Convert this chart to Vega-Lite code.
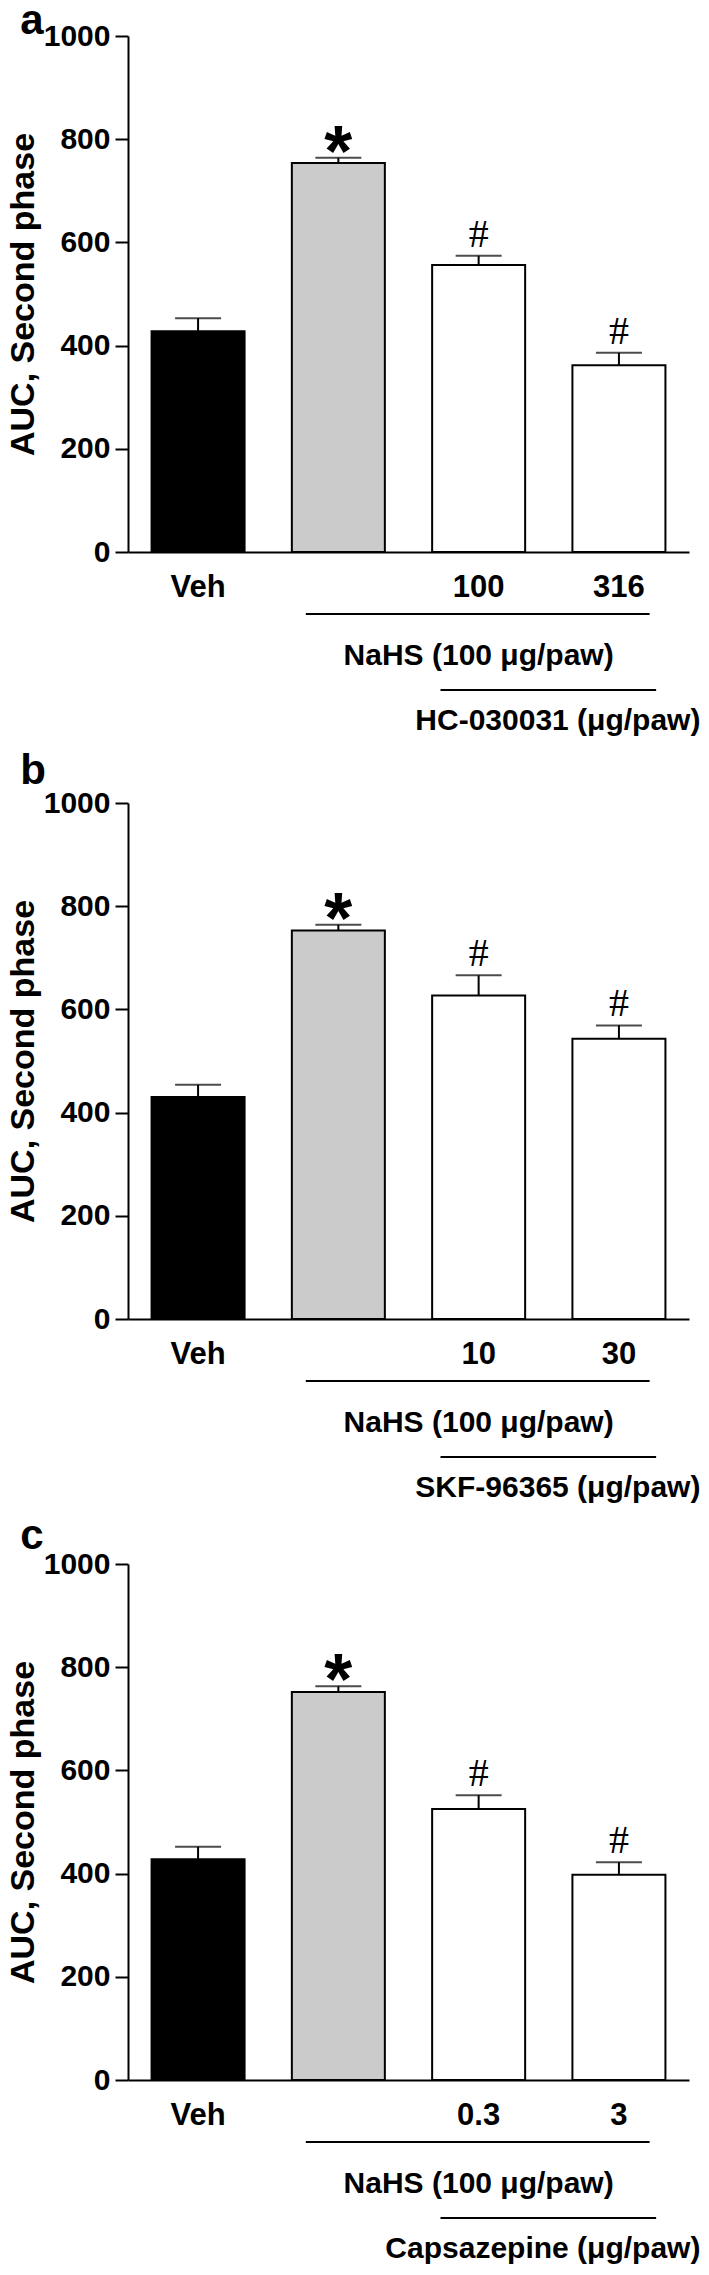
{
  "$schema": "https://vega.github.io/schema/vega-lite/v6.json",
  "padding": {"left": 6, "top": 0, "right": 0, "bottom": 0},
  "background": "white",
  "spacing": 10,
  "config": {
    "view": {"stroke": null},
    "font": "Liberation Sans",
    "axis": {"domainColor": "black", "domainWidth": 2, "tickColor": "black", "tickWidth": 2, "labelColor": "black", "labelFont": "Liberation Sans", "labelFontWeight": "bold", "titleFont": "Liberation Sans", "titleFontWeight": "bold", "titleColor": "black", "grid": false},
    "title": {"font": "Liberation Sans", "fontWeight": "bold", "fontSize": 42, "color": "black", "anchor": "start", "frame": "bounds"}
  },
  "datasets": {
    "a": [
      {"group": "Veh", "mean": 428, "upper": 453, "sig": ""},
      {"group": "NaHS", "mean": 754, "upper": 764, "sig": "*"},
      {"group": "100", "mean": 556, "upper": 574, "sig": "#"},
      {"group": "316", "mean": 362, "upper": 386, "sig": "#"}
    ],
    "b": [
      {"group": "Veh", "mean": 430, "upper": 454, "sig": ""},
      {"group": "NaHS", "mean": 753, "upper": 764, "sig": "*"},
      {"group": "10", "mean": 627, "upper": 666, "sig": "#"},
      {"group": "30", "mean": 543, "upper": 569, "sig": "#"}
    ],
    "c": [
      {"group": "Veh", "mean": 428, "upper": 452, "sig": ""},
      {"group": "NaHS", "mean": 752, "upper": 763, "sig": "*"},
      {"group": "0.3", "mean": 525, "upper": 552, "sig": "#"},
      {"group": "3", "mean": 398, "upper": 422, "sig": "#"}
    ],
    "ga": [
      {"row": "1", "label": "NaHS (100 μg/paw)", "from": "NaHS", "to": "316", "center": "100"},
      {"row": "2", "label": "HC-030031 (μg/paw)", "from": "100", "to": "316", "center": "316"}
    ],
    "gb": [
      {"row": "1", "label": "NaHS (100 μg/paw)", "from": "NaHS", "to": "30", "center": "10"},
      {"row": "2", "label": "SKF-96365 (μg/paw)", "from": "10", "to": "30", "center": "30"}
    ],
    "gc": [
      {"row": "1", "label": "NaHS (100 μg/paw)", "from": "NaHS", "to": "3", "center": "0.3"},
      {"row": "2", "label": "Capsazepine (μg/paw)", "from": "0.3", "to": "3", "center": "3"}
    ]
  },
  "vconcat": [
    {
      "width": 561, "height": 516,
      "title": {"text": "a", "dx": 14, "offset": -22},
      "data": {"name": "a"},
      "encoding": {
        "x": {"field": "group", "type": "nominal", "sort": null,
          "scale": {"domain": ["Veh", "NaHS", "100", "316"], "paddingInner": 0.337, "paddingOuter": 0.168},
          "axis": {"title": null, "ticks": false, "tickSize": 0, "labelFontSize": 31, "labelPadding": 44, "labelBaseline": "alphabetic", "labelAngle": 0, "labelExpr": "datum.value == 'NaHS' ? '' : datum.value"}}
      },
      "layer": [
        {"mark": {"type": "bar", "stroke": "black", "strokeWidth": 2},
         "encoding": {
           "y": {"field": "mean", "type": "quantitative", "scale": {"domain": [0, 1000], "nice": false},
             "axis": {"values": [0, 200, 400, 600, 800, 1000], "format": "d", "title": "AUC, Second phase", "titleFontSize": 34, "labelFontSize": 30, "tickSize": 13, "labelPadding": 5, "titlePadding": 3}},
           "color": {"field": "group", "type": "nominal", "scale": {"domain": ["Veh", "NaHS", "100", "316", "10", "30", "0.3", "3"], "range": ["black", "#cbcbcb", "white", "white", "white", "white", "white", "white"]}, "legend": null}
         }},
        {"mark": {"type": "rule", "strokeWidth": 2, "color": "black"},
         "encoding": {"y": {"field": "mean", "type": "quantitative"}, "y2": {"field": "upper"}}},
        {"mark": {"type": "tick", "size": 46, "thickness": 2, "color": "black"},
         "encoding": {"y": {"field": "upper", "type": "quantitative"}}},
        {"transform": [{"filter": "datum.sig == '*'"}],
         "mark": {"type": "text", "font": "Liberation Sans", "fontWeight": "bold", "fontSize": 72, "baseline": "alphabetic", "dy": 18, "color": "black"},
         "encoding": {"y": {"field": "upper", "type": "quantitative"}, "text": {"field": "sig"}}},
        {"transform": [{"filter": "datum.sig == '#'"}],
         "mark": {"type": "text", "font": "Liberation Serif", "fontSize": 40, "baseline": "alphabetic", "dy": -9, "color": "black"},
         "encoding": {"y": {"field": "upper", "type": "quantitative"}, "text": {"field": "sig"}}}
      ]
    },
    {
      "width": 561, "height": 128,
      "data": {"name": "ga"},
      "encoding": {"y": {"field": "row", "type": "ordinal", "scale": {"type": "point", "domain": ["1", "2"], "range": [2, 78], "padding": 0}, "axis": null}},
      "layer": [
        {"transform": [{"filter": "datum.row == '1'"}],
         "mark": {"type": "rule", "strokeWidth": 2, "color": "black"},
         "encoding": {"x": {"field": "from", "type": "nominal", "bandPosition": 0.15, "scale": {"domain": ["Veh", "NaHS", "100", "316"], "paddingInner": 0.337, "paddingOuter": 0.168}, "axis": null}, "x2": {"field": "to", "bandPosition": 0.83}}},
        {"transform": [{"filter": "datum.row == '2'"}],
         "mark": {"type": "rule", "strokeWidth": 2, "color": "black"},
         "encoding": {"x": {"field": "from", "type": "nominal", "bandPosition": 0.09, "scale": {"domain": ["Veh", "NaHS", "100", "316"], "paddingInner": 0.337, "paddingOuter": 0.168}, "axis": null}, "x2": {"field": "to", "bandPosition": 0.9}}},
        {"transform": [{"filter": "datum.row == '1'"}],
         "mark": {"type": "text", "font": "Liberation Sans", "fontWeight": "bold", "fontSize": 30, "baseline": "alphabetic", "align": "center", "dy": 51, "color": "black"},
         "encoding": {"x": {"field": "center", "type": "nominal", "scale": {"domain": ["Veh", "NaHS", "100", "316"], "paddingInner": 0.337, "paddingOuter": 0.168}, "axis": null}, "text": {"field": "label"}}},
        {"transform": [{"filter": "datum.row == '2'"}],
         "mark": {"type": "text", "font": "Liberation Sans", "fontWeight": "bold", "fontSize": 30, "baseline": "alphabetic", "align": "right", "dy": 40, "dx": 35, "color": "black"},
         "encoding": {"x": {"field": "center", "type": "nominal", "bandPosition": 1, "scale": {"domain": ["Veh", "NaHS", "100", "316"], "paddingInner": 0.337, "paddingOuter": 0.168}, "axis": null}, "text": {"field": "label"}}}
      ]
    },
    {
      "width": 561, "height": 516,
      "title": {"text": "b", "dx": 14, "offset": -5},
      "data": {"name": "b"},
      "encoding": {
        "x": {"field": "group", "type": "nominal", "sort": null,
          "scale": {"domain": ["Veh", "NaHS", "10", "30"], "paddingInner": 0.337, "paddingOuter": 0.168},
          "axis": {"title": null, "ticks": false, "tickSize": 0, "labelFontSize": 31, "labelPadding": 44, "labelBaseline": "alphabetic", "labelAngle": 0, "labelExpr": "datum.value == 'NaHS' ? '' : datum.value"}}
      },
      "layer": [
        {"mark": {"type": "bar", "stroke": "black", "strokeWidth": 2},
         "encoding": {
           "y": {"field": "mean", "type": "quantitative", "scale": {"domain": [0, 1000], "nice": false},
             "axis": {"values": [0, 200, 400, 600, 800, 1000], "format": "d", "title": "AUC, Second phase", "titleFontSize": 34, "labelFontSize": 30, "tickSize": 13, "labelPadding": 5, "titlePadding": 3}},
           "color": {"field": "group", "type": "nominal", "scale": {"domain": ["Veh", "NaHS", "100", "316", "10", "30", "0.3", "3"], "range": ["black", "#cbcbcb", "white", "white", "white", "white", "white", "white"]}, "legend": null}
         }},
        {"mark": {"type": "rule", "strokeWidth": 2, "color": "black"},
         "encoding": {"y": {"field": "mean", "type": "quantitative"}, "y2": {"field": "upper"}}},
        {"mark": {"type": "tick", "size": 46, "thickness": 2, "color": "black"},
         "encoding": {"y": {"field": "upper", "type": "quantitative"}}},
        {"transform": [{"filter": "datum.sig == '*'"}],
         "mark": {"type": "text", "font": "Liberation Sans", "fontWeight": "bold", "fontSize": 72, "baseline": "alphabetic", "dy": 18, "color": "black"},
         "encoding": {"y": {"field": "upper", "type": "quantitative"}, "text": {"field": "sig"}}},
        {"transform": [{"filter": "datum.sig == '#'"}],
         "mark": {"type": "text", "font": "Liberation Serif", "fontSize": 40, "baseline": "alphabetic", "dy": -9, "color": "black"},
         "encoding": {"y": {"field": "upper", "type": "quantitative"}, "text": {"field": "sig"}}}
      ]
    },
    {
      "width": 561, "height": 126,
      "data": {"name": "gb"},
      "encoding": {"y": {"field": "row", "type": "ordinal", "scale": {"type": "point", "domain": ["1", "2"], "range": [2, 78], "padding": 0}, "axis": null}},
      "layer": [
        {"transform": [{"filter": "datum.row == '1'"}],
         "mark": {"type": "rule", "strokeWidth": 2, "color": "black"},
         "encoding": {"x": {"field": "from", "type": "nominal", "bandPosition": 0.15, "scale": {"domain": ["Veh", "NaHS", "10", "30"], "paddingInner": 0.337, "paddingOuter": 0.168}, "axis": null}, "x2": {"field": "to", "bandPosition": 0.83}}},
        {"transform": [{"filter": "datum.row == '2'"}],
         "mark": {"type": "rule", "strokeWidth": 2, "color": "black"},
         "encoding": {"x": {"field": "from", "type": "nominal", "bandPosition": 0.09, "scale": {"domain": ["Veh", "NaHS", "10", "30"], "paddingInner": 0.337, "paddingOuter": 0.168}, "axis": null}, "x2": {"field": "to", "bandPosition": 0.9}}},
        {"transform": [{"filter": "datum.row == '1'"}],
         "mark": {"type": "text", "font": "Liberation Sans", "fontWeight": "bold", "fontSize": 30, "baseline": "alphabetic", "align": "center", "dy": 51, "color": "black"},
         "encoding": {"x": {"field": "center", "type": "nominal", "scale": {"domain": ["Veh", "NaHS", "10", "30"], "paddingInner": 0.337, "paddingOuter": 0.168}, "axis": null}, "text": {"field": "label"}}},
        {"transform": [{"filter": "datum.row == '2'"}],
         "mark": {"type": "text", "font": "Liberation Sans", "fontWeight": "bold", "fontSize": 30, "baseline": "alphabetic", "align": "right", "dy": 40, "dx": 35, "color": "black"},
         "encoding": {"x": {"field": "center", "type": "nominal", "bandPosition": 1, "scale": {"domain": ["Veh", "NaHS", "10", "30"], "paddingInner": 0.337, "paddingOuter": 0.168}, "axis": null}, "text": {"field": "label"}}}
      ]
    },
    {
      "width": 561, "height": 516,
      "title": {"text": "c", "dx": 14, "offset": -9},
      "data": {"name": "c"},
      "encoding": {
        "x": {"field": "group", "type": "nominal", "sort": null,
          "scale": {"domain": ["Veh", "NaHS", "0.3", "3"], "paddingInner": 0.337, "paddingOuter": 0.168},
          "axis": {"title": null, "ticks": false, "tickSize": 0, "labelFontSize": 31, "labelPadding": 44, "labelBaseline": "alphabetic", "labelAngle": 0, "labelExpr": "datum.value == 'NaHS' ? '' : datum.value"}}
      },
      "layer": [
        {"mark": {"type": "bar", "stroke": "black", "strokeWidth": 2},
         "encoding": {
           "y": {"field": "mean", "type": "quantitative", "scale": {"domain": [0, 1000], "nice": false},
             "axis": {"values": [0, 200, 400, 600, 800, 1000], "format": "d", "title": "AUC, Second phase", "titleFontSize": 34, "labelFontSize": 30, "tickSize": 13, "labelPadding": 5, "titlePadding": 3}},
           "color": {"field": "group", "type": "nominal", "scale": {"domain": ["Veh", "NaHS", "100", "316", "10", "30", "0.3", "3"], "range": ["black", "#cbcbcb", "white", "white", "white", "white", "white", "white"]}, "legend": null}
         }},
        {"mark": {"type": "rule", "strokeWidth": 2, "color": "black"},
         "encoding": {"y": {"field": "mean", "type": "quantitative"}, "y2": {"field": "upper"}}},
        {"mark": {"type": "tick", "size": 46, "thickness": 2, "color": "black"},
         "encoding": {"y": {"field": "upper", "type": "quantitative"}}},
        {"transform": [{"filter": "datum.sig == '*'"}],
         "mark": {"type": "text", "font": "Liberation Sans", "fontWeight": "bold", "fontSize": 72, "baseline": "alphabetic", "dy": 18, "color": "black"},
         "encoding": {"y": {"field": "upper", "type": "quantitative"}, "text": {"field": "sig"}}},
        {"transform": [{"filter": "datum.sig == '#'"}],
         "mark": {"type": "text", "font": "Liberation Serif", "fontSize": 40, "baseline": "alphabetic", "dy": -9, "color": "black"},
         "encoding": {"y": {"field": "upper", "type": "quantitative"}, "text": {"field": "sig"}}}
      ]
    },
    {
      "width": 561, "height": 126,
      "data": {"name": "gc"},
      "encoding": {"y": {"field": "row", "type": "ordinal", "scale": {"type": "point", "domain": ["1", "2"], "range": [2, 78], "padding": 0}, "axis": null}},
      "layer": [
        {"transform": [{"filter": "datum.row == '1'"}],
         "mark": {"type": "rule", "strokeWidth": 2, "color": "black"},
         "encoding": {"x": {"field": "from", "type": "nominal", "bandPosition": 0.15, "scale": {"domain": ["Veh", "NaHS", "0.3", "3"], "paddingInner": 0.337, "paddingOuter": 0.168}, "axis": null}, "x2": {"field": "to", "bandPosition": 0.83}}},
        {"transform": [{"filter": "datum.row == '2'"}],
         "mark": {"type": "rule", "strokeWidth": 2, "color": "black"},
         "encoding": {"x": {"field": "from", "type": "nominal", "bandPosition": 0.09, "scale": {"domain": ["Veh", "NaHS", "0.3", "3"], "paddingInner": 0.337, "paddingOuter": 0.168}, "axis": null}, "x2": {"field": "to", "bandPosition": 0.9}}},
        {"transform": [{"filter": "datum.row == '1'"}],
         "mark": {"type": "text", "font": "Liberation Sans", "fontWeight": "bold", "fontSize": 30, "baseline": "alphabetic", "align": "center", "dy": 51, "color": "black"},
         "encoding": {"x": {"field": "center", "type": "nominal", "scale": {"domain": ["Veh", "NaHS", "0.3", "3"], "paddingInner": 0.337, "paddingOuter": 0.168}, "axis": null}, "text": {"field": "label"}}},
        {"transform": [{"filter": "datum.row == '2'"}],
         "mark": {"type": "text", "font": "Liberation Sans", "fontWeight": "bold", "fontSize": 30, "baseline": "alphabetic", "align": "right", "dy": 40, "dx": 35, "color": "black"},
         "encoding": {"x": {"field": "center", "type": "nominal", "bandPosition": 1, "scale": {"domain": ["Veh", "NaHS", "0.3", "3"], "paddingInner": 0.337, "paddingOuter": 0.168}, "axis": null}, "text": {"field": "label"}}}
      ]
    }
  ]
}
